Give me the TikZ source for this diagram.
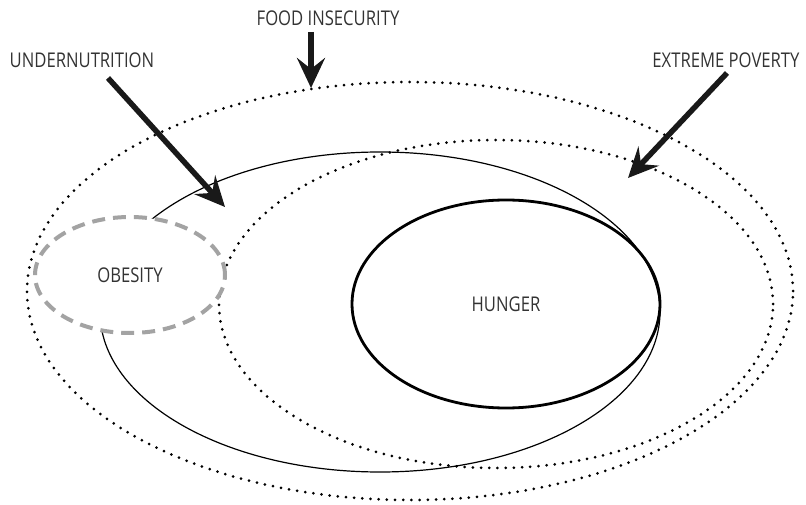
\documentclass[tikz,border=0pt]{standalone}
\usepackage{fontspec}
\setmainfont{Open Sans}[FakeStretch=0.82]
\usetikzlibrary{shapes.geometric,arrows.meta}
\definecolor{txt}{HTML}{333333}
\definecolor{obgray}{HTML}{A3A3A3}
\tikzset{
  lbl/.style={text=txt, font=\fontsize{20.3}{24}\selectfont, inner sep=0pt},
  ell/.style={ellipse, inner sep=0pt},
  dotline/.style={draw=black, line width=3pt, line cap=round, dash pattern=on 0pt off 8.2pt},
  bigarrow/.style={line width=5.5pt, -{Stealth[length=30pt,width=28pt,inset=11pt]}, black!90},
}
\begin{document}
\begin{tikzpicture}[x=1pt,y=-1pt]
\useasboundingbox (0,0) rectangle (806,505);
% ellipses
\node[ell, dotline, minimum width=766pt, minimum height=418pt] (food) at (410,291) {};
\node[ell, dotline, minimum width=554pt, minimum height=328pt] (pov) at (496,304) {};
\node[ell, draw=black, line width=1.2pt, minimum width=560pt, minimum height=320pt] (under) at (380,312) {};
\node[ell, draw=black, line width=2.8pt, minimum width=308pt, minimum height=208pt, lbl] (hunger) at (506,304) {HUNGER};
\node[ell, draw=obgray, fill=white, line width=4pt, dash pattern=on 13pt off 8pt, minimum width=190pt, minimum height=116pt, lbl] (obesity) at (130,275) {OBESITY};
% labels
\node[lbl] (lfood) at (328,18) {FOOD INSECURITY};
\node[lbl] (lunder) at (82,60) {UNDERNUTRITION};
\node[lbl] (lpov) at (726,60.5) {EXTREME POVERTY};
% arrow ends
\coordinate (fs) at (311,32);
\coordinate (fe) at (311,88);
\coordinate (us) at (108,78);
\coordinate (ue) at (225,207);
\coordinate (ps) at (727,73);
\coordinate (pe) at (628,178);
\draw[bigarrow] (fs) -- (fe);
\draw[bigarrow] (us) -- (ue);
\draw[bigarrow] (ps) -- (pe);
\end{tikzpicture}
\end{document}
